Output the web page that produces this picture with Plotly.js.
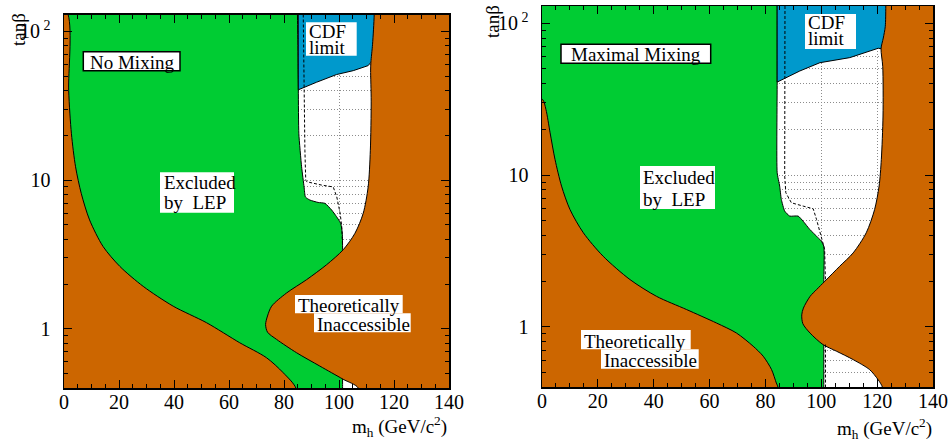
<!DOCTYPE html>
<html><head><meta charset="utf-8">
<script src="https://cdn.plot.ly/plotly-3.0.1.min.js"></script>
<style>html,body{margin:0;padding:0;background:#fff}</style>
</head><body><div id="chart" style="width:951px;height:441px"></div>
<script>
// ================= DATA =================
// ---- No Mixing panel ----
// left theoretical boundary (top -> bottom)
const nm_thL_mh = [1.5, 1.7, 2.7, 4.2, 6.3, 9.3, 14.2, 20.3, 28.8, 39.7, 51.8, 63.9, 73.6, 79.7, 84.3];
const nm_thL_tb = [130, 40, 20.5, 12.3, 8.1, 5.4, 3.58, 2.63, 1.93, 1.42, 1.10, 0.806, 0.64, 0.507, 0.4];
// right theoretical boundary (bottom -> top)
const nm_thR_mh = [107, 101.5, 93.0, 84.6, 77.3, 74.0, 73.3, 74.0, 75.5, 80.9, 88.2, 95.5, 101.5, 105.8, 108.8, 110.6, 111.4, 111.7, 111.5, 111.6, 112.2, 112.8];
const nm_thR_tb = [0.4, 0.458, 0.562, 0.69, 0.849, 0.95, 1.07, 1.22, 1.42, 1.74, 2.14, 2.70, 3.40, 4.39, 5.98, 9.0, 15.9, 34, 55, 62, 82, 130];
// LEP exclusion boundary (top -> bottom)
const nm_lep_mh = [84.9, 85.2, 85.4, 86.4, 87.3, 87.8, 89.4, 92.4, 94.9, 97.3, 99.1, 100.6, 101.2, 101.3, 101.3];
const nm_lep_tb = [130, 40.5, 20.5, 12.3, 9.0, 7.7, 7.35, 7.08, 6.98, 6.3, 5.68, 5.13, 4.39, 3.4, 0.4];
// CDF limit
const nm_cdf_mh = [85.2, 91.8, 99.1, 105.2, 110.6, 111.6];
const nm_cdf_tb = [40.5, 45.5, 51.3, 54.5, 58.9, 62];
// expected (dashed) limit
const nm_exp_mh = [87.0, 87.2, 87.6, 87.9, 88.3, 93.7, 97.9, 99.2, 100.4, 101.0, 101.3];
const nm_exp_tb = [130, 40, 15.9, 10, 9.75, 9.26, 9.0, 7.7, 6.0, 4.87, 3.57];

// ---- Maximal Mixing panel ----
const mm_thL_mh = [0.2, 1.4, 2.9, 4.65, 7.0, 10.0, 14.8, 21.9, 31.5, 41.0, 51.8, 62.5, 69.6, 75.6, 79.2, 82.2, 83.9, 84.5];
const mm_thL_tb = [31.5, 27.1, 19, 12.7, 8.46, 5.94, 4.17, 2.92, 2.05, 1.59, 1.30, 1.06, 0.912, 0.746, 0.641, 0.523, 0.427, 0.4];
const mm_thR_mh = [121.9, 120.3, 117.3, 111.4, 105.4, 100.6, 96.0, 93.4, 93.0, 93.6, 96.0, 98.3, 101.3, 106.6, 111.4, 116.1, 119.1, 120.7, 121.5, 122.1, 122.0, 121.4, 122.2, 122.9, 123.1];
const mm_thR_tb = [0.4, 0.45, 0.523, 0.609, 0.692, 0.765, 0.91, 1.05, 1.2, 1.33, 1.59, 1.76, 2.0, 2.51, 3.07, 4.17, 5.94, 8.46, 12.7, 24.5, 52, 68, 80, 95, 130];
const mm_lep_mh = [84.2, 84.2, 84.2, 85.1, 85.7, 86.9, 88.7, 91.7, 93.5, 95.9, 98.3, 100.0, 100.9, 100.9, 100.9];
const mm_lep_tb = [130, 41, 10.4, 8.46, 6.91, 5.79, 5.37, 5.37, 4.97, 4.38, 3.96, 3.67, 3.4, 1.95, 0.4];
const mm_cdf_mh = [84.2, 92.3, 99.5, 110.2, 117.3, 120.4, 121.4];
const mm_cdf_tb = [41, 48.5, 55, 59.4, 65.7, 68.5, 68];
const mm_exp_mh = [87.0, 86.9, 87.3, 89.3, 93.5, 97.1, 98.3, 99.5, 100.6, 101.2, 101.5, null, 101.5, 101.5];
const mm_exp_tb = [130, 9.85, 7.65, 6.57, 6.25, 6.0, 5.1, 4.17, 3.58, 3.24, 2.0, null, 0.765, 0.4];

// axis
const xTickVals = [0, 20, 40, 60, 80, 100, 120, 140];
const yTickVals = [1, 10, 100];
const yTickText = ['1', '10', '10<sup> 2</sup>'];
const yMinorVals = [0.4, 0.5, 0.6, 0.7, 0.8, 0.9, 2, 3, 4, 5, 6, 7, 8, 9, 20, 30, 40, 50, 60, 70, 80, 90];
const X_RANGE = [0, 140];
const Y_RANGE = [0.4, 130];

// ================= STYLE =================
const ORANGE = '#CC6600', GREEN = '#00CC33', BLUE = '#0099CC';
const FONT = 'Liberation Serif, Times New Roman, serif';
const GRID = '#8c8c8c', GRIDDASH = '1px,2px';
const XL = -6, XR = 146, YB = 0.3, YT = 220; // outside-of-view closure

const last = a => a[a.length - 1];
const rev = a => a.slice().reverse();

function panel(p, xa, ya) {
  const tr = [];
  const base = {xaxis: xa, yaxis: ya, mode: 'lines', hoverinfo: 'skip', showlegend: false};
  // green: LEP excluded (left of LEP boundary)
  tr.push(Object.assign({}, base, {
    x: [XL, XL, last(p.lep_mh), ...rev(p.lep_mh), p.lep_mh[0]],
    y: [YT, YB, YB, ...rev(p.lep_tb), YT],
    fill: 'toself', fillcolor: GREEN, line: {color: 'black', width: 1, shape: 'spline', smoothing: 0.5}
  }));
  // blue: CDF
  tr.push(Object.assign({}, base, {
    x: [p.cdf_mh[0], ...p.cdf_mh, XR, XR],
    y: [YT, ...p.cdf_tb, last(p.cdf_tb), YT],
    fill: 'toself', fillcolor: BLUE, line: {color: 'black', width: 1}
  }));
  // orange left
  tr.push(Object.assign({}, base, {
    x: [XL, ...p.thL_mh, last(p.thL_mh), XL],
    y: [p.thLstartY, ...p.thL_tb, YB, YB],
    fill: 'toself', fillcolor: ORANGE, line: {color: 'black', width: 1, shape: 'spline', smoothing: 0.8}
  }));
  // orange right
  tr.push(Object.assign({}, base, {
    x: [p.thR_mh[0], ...p.thR_mh, last(p.thR_mh), XR, XR],
    y: [YB, ...p.thR_tb, YT, YT, YB],
    fill: 'toself', fillcolor: ORANGE, line: {color: 'black', width: 1, shape: 'spline', smoothing: 0.8}
  }));
  // expected limit (dashed)
  tr.push(Object.assign({}, base, {
    x: p.exp_mh, y: p.exp_tb, connectgaps: false,
    line: {color: 'black', width: 1, dash: '3px,2px'}
  }));
  return tr;
}

const data = [
  ...panel({thL_mh: nm_thL_mh, thL_tb: nm_thL_tb, thLstartY: YT, thR_mh: nm_thR_mh, thR_tb: nm_thR_tb,
            lep_mh: nm_lep_mh, lep_tb: nm_lep_tb, cdf_mh: nm_cdf_mh, cdf_tb: nm_cdf_tb,
            exp_mh: nm_exp_mh, exp_tb: nm_exp_tb}, 'x', 'y'),
  ...panel({thL_mh: mm_thL_mh, thL_tb: mm_thL_tb, thLstartY: 36, thR_mh: mm_thR_mh, thR_tb: mm_thR_tb,
            lep_mh: mm_lep_mh, lep_tb: mm_lep_tb, cdf_mh: mm_cdf_mh, cdf_tb: mm_cdf_tb,
            exp_mh: mm_exp_mh, exp_tb: mm_exp_tb}, 'x2', 'y2')
];

const W = 951, H = 441;
const px = v => v / W, py = v => 1 - v / H;

function xax(dom, anchor) {
  return {
    domain: dom, anchor: anchor, range: X_RANGE, tickmode: 'array', tickvals: xTickVals,
    ticks: 'inside', ticklen: 8, tickwidth: 1, tickcolor: 'black',
    showline: true, linecolor: 'black', linewidth: 1.5, mirror: 'ticks', zeroline: false,
    showgrid: true, gridcolor: GRID, griddash: GRIDDASH, gridwidth: 1,
    minor: {dtick: 5, tick0: 0, ticks: 'inside', ticklen: 4, tickcolor: 'black', showgrid: false},
    tickfont: {family: FONT, size: 20, color: 'black'}, ticklabelstandoff: -5
  };
}
function yax(dom, anchor) {
  return {
    domain: dom, anchor: anchor, type: 'log', range: Y_RANGE.map(Math.log10),
    tickmode: 'array', tickvals: yTickVals, ticktext: yTickText,
    ticks: 'inside', ticklen: 8, tickwidth: 1, tickcolor: 'black',
    showline: true, linecolor: 'black', linewidth: 1.5, mirror: 'ticks', zeroline: false,
    showgrid: true, gridcolor: GRID, griddash: GRIDDASH, gridwidth: 1,
    minor: {tickmode: 'array', tickvals: yMinorVals, ticks: 'inside', ticklen: 4, tickcolor: 'black',
            showgrid: true, gridcolor: GRID, griddash: GRIDDASH, gridwidth: 1},
    tickfont: {family: FONT, size: 20, color: 'black'}, ticklabelstandoff: 8
  };
}

function box(x0, y0, x1, y1, border) {
  return {type: 'rect', xref: 'paper', yref: 'paper', layer: 'above',
    x0: px(x0), x1: px(x1), y0: py(y1), y1: py(y0), fillcolor: 'white',
    line: {color: 'black', width: border ? 1.5 : 0}};
}
function txt(text, x, y, xanchor, extra) {
  return Object.assign({text: text, xref: 'paper', yref: 'paper', x: px(x), y: py(y),
    xanchor: xanchor, yanchor: 'middle', showarrow: false,
    font: {family: FONT, size: 19, color: 'black'}}, extra || {});
}

const layout = {
  width: W, height: H, margin: {l: 0, r: 0, t: 0, b: 0},
  paper_bgcolor: 'white', plot_bgcolor: 'white', showlegend: false,
  xaxis: xax([px(64), px(449)], 'y'),
  yaxis: yax([py(388), py(14.5)], 'x'),
  xaxis2: xax([px(542), px(933)], 'y2'),
  yaxis2: yax([py(387.3), py(6)], 'x2'),
  shapes: [
    box(83.3, 51.7, 180, 70.7, true),
    box(306, 22.3, 356.7, 55.7, false),
    box(160, 172.3, 234, 212.7, false),
    box(295, 295, 402.7, 313.3, false),
    box(314, 313.3, 410.7, 332.3, false),
    box(561, 44.3, 710.7, 63.3, true),
    box(805, 14, 856, 49, false),
    box(640, 166, 715, 209, false),
    box(581, 330, 690.7, 349.3, false),
    box(601, 349.3, 698.7, 368.7, false)
  ],
  annotations: [
    txt('No Mixing', 131.7, 62, 'center'),
    txt('CDF', 307, 31.5, 'left'),
    txt('limit', 307, 47.5, 'left'),
    txt('Excluded', 161.5, 182, 'left'),
    txt('by  LEP', 161.5, 202, 'left'),
    txt('Theoretically', 295.5, 305, 'left'),
    txt('Inaccessible', 315, 324, 'left'),
    txt('Maximal Mixing', 636, 55, 'center'),
    txt('CDF', 806, 22.5, 'left'),
    txt('limit', 806, 39, 'left'),
    txt('Excluded', 640.5, 177, 'left'),
    txt('by  LEP', 640.5, 199, 'left'),
    txt('Theoretically', 582, 341, 'left'),
    txt('Inaccessible', 602, 360, 'left'),
    txt('tanβ', 19, 30, 'center', {textangle: -90}),
    txt('tanβ', 493, 22, 'center', {textangle: -90}),
    txt('m<sub>h</sub> (GeV/c<sup>2</sup>)', 449, 426, 'right'),
    txt('m<sub>h</sub> (GeV/c<sup>2</sup>)', 934, 428, 'right')
  ]
};

Plotly.newPlot('chart', data, layout, {staticPlot: true, displayModeBar: false});
</script>
</body></html>
